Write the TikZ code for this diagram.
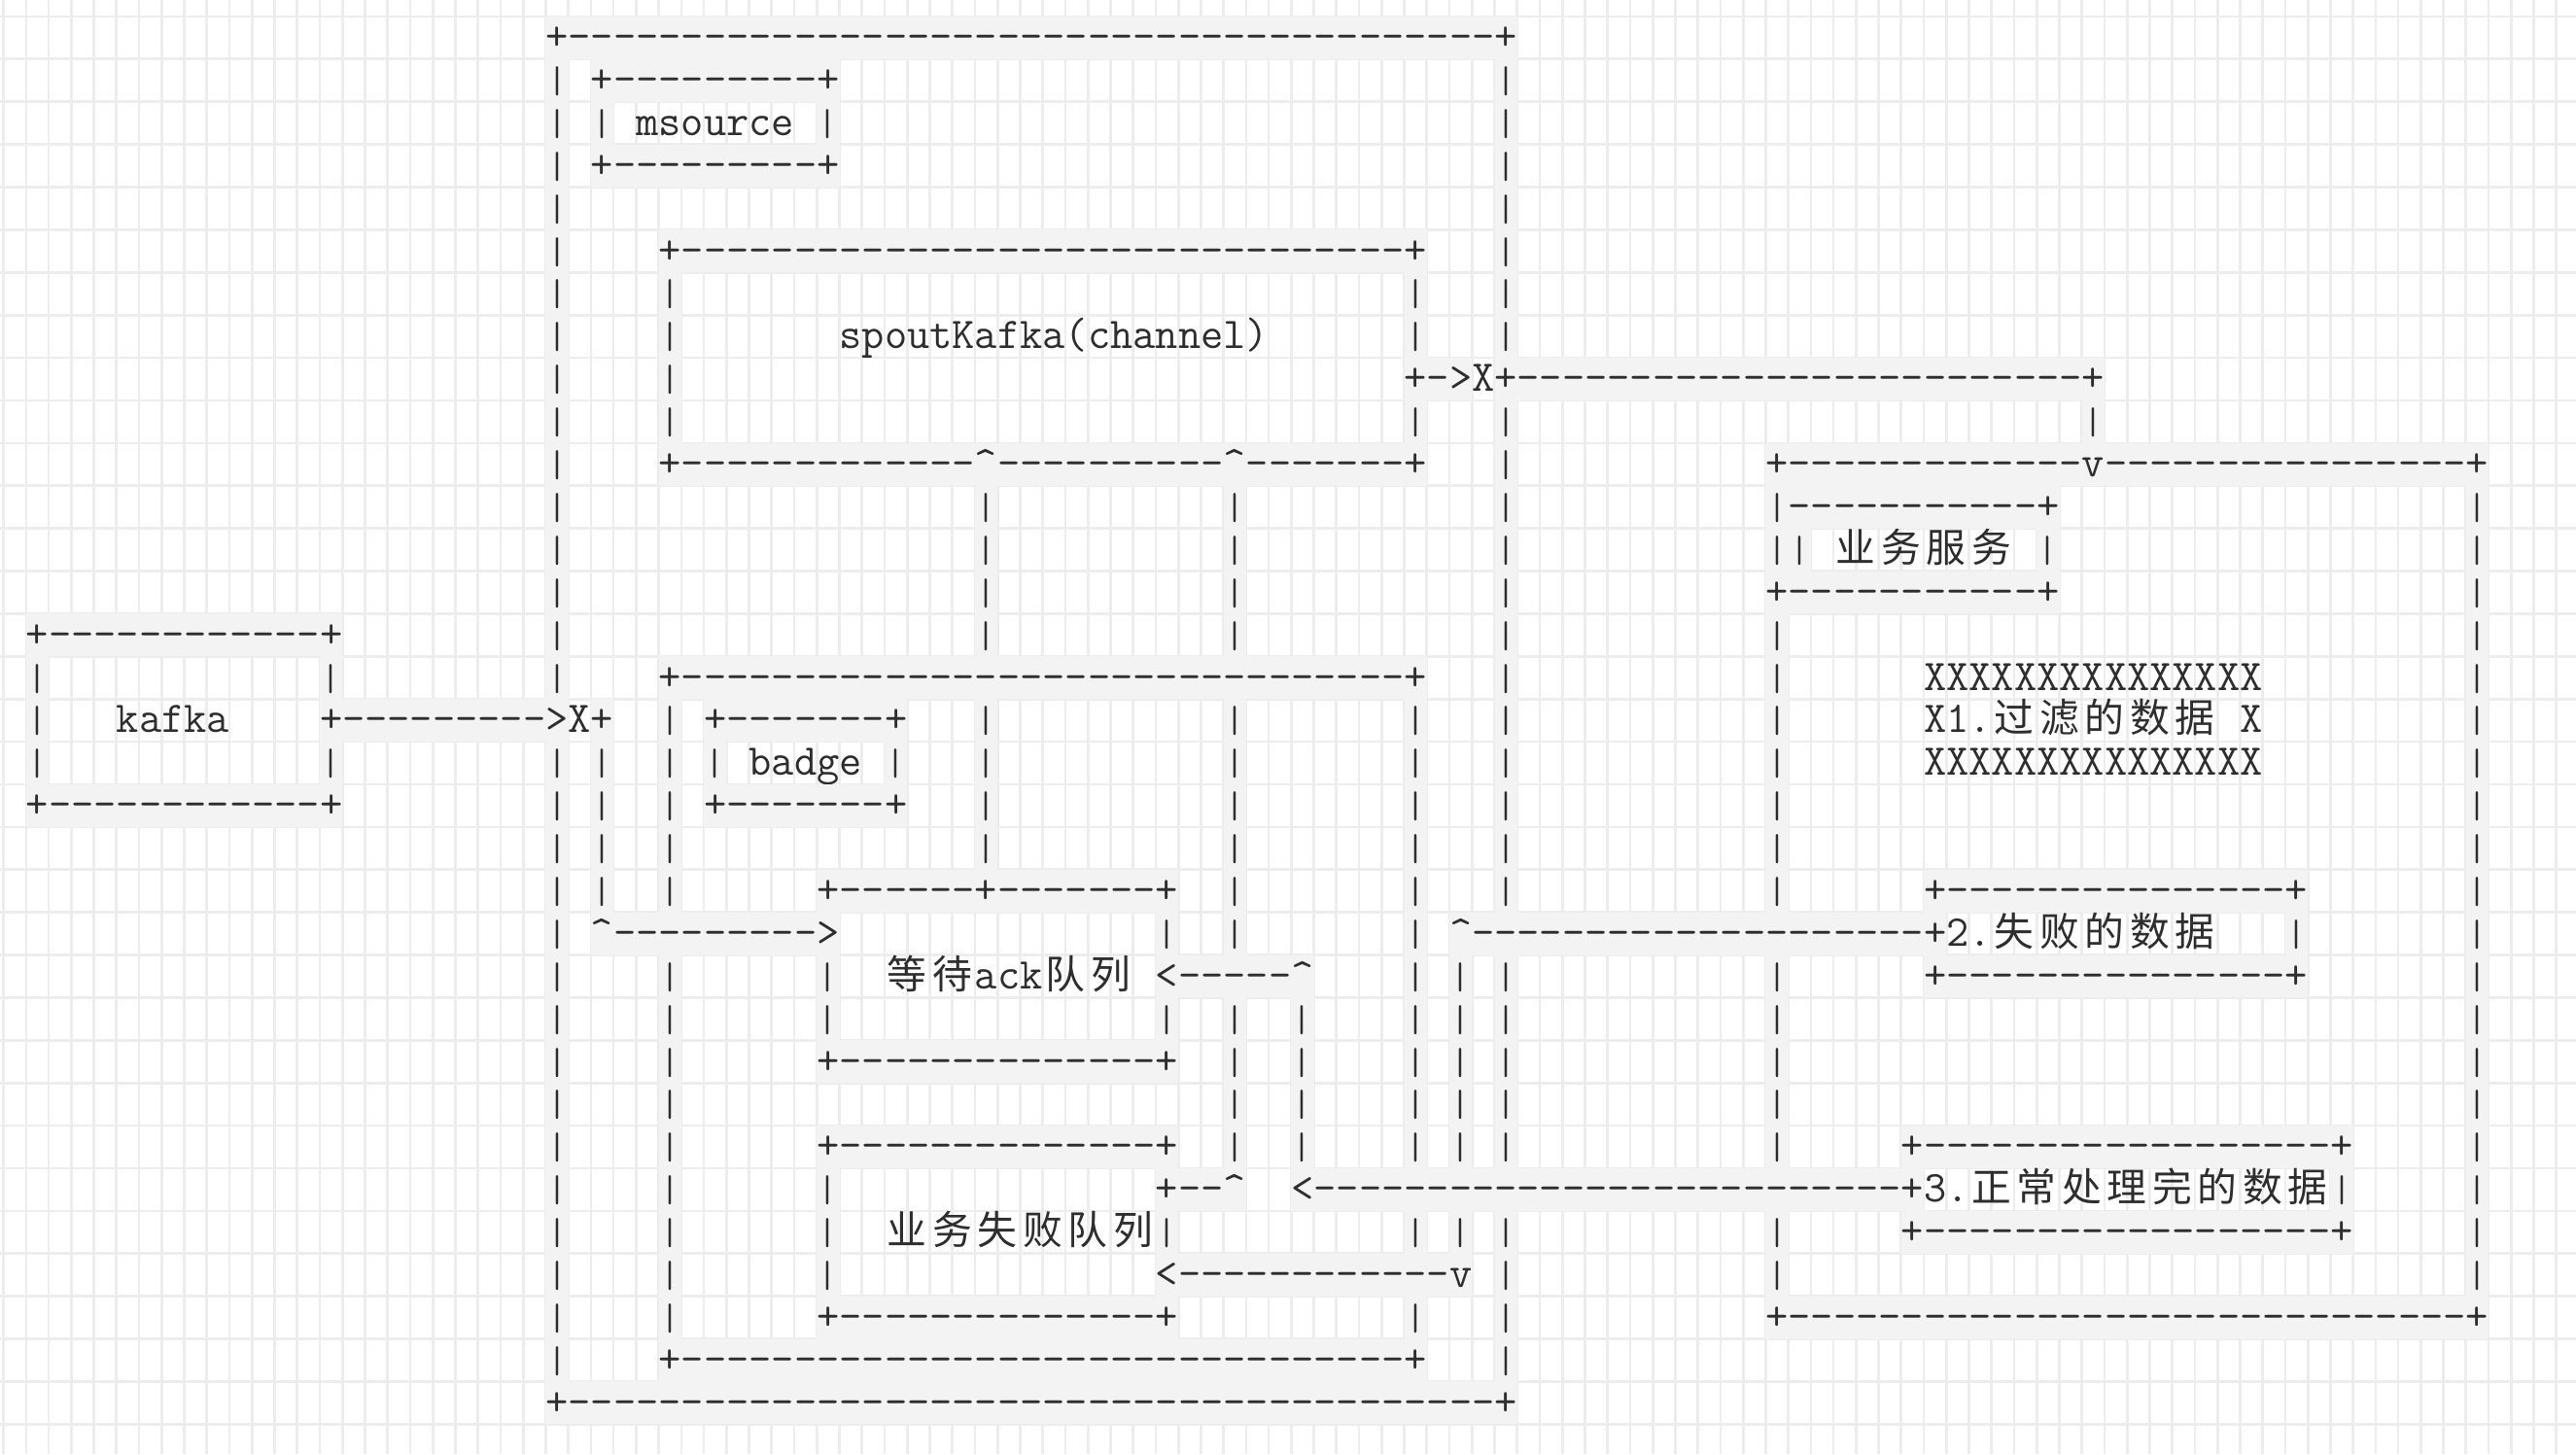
\documentclass[tikz,border=0pt]{standalone}
\usepackage{fontspec}
\newfontfamily\zhfont{Noto Sans CJK SC}

\definecolor{ink}{HTML}{2E2E2E}
\definecolor{shade}{HTML}{F3F3F3}
\definecolor{gridc}{HTML}{EDEDED}

\newlength\colw
\newlength\rowh
\newcommand\artfont{\ttfamily\fontsize{13.28pt}{13.28pt}\selectfont}
\AtBeginDocument{\settowidth\colw{\artfont M}\setlength\rowh{1.8886\colw}}

% one dash per box, so no -- ligature
\newcommand\dashrun[1]{\foreach \i in {1,...,#1}{\hbox{-}}}
\newcommand\caret{\textasciicircum}
% a shorter bar, so rows keep a gap
\newcommand\pipe{\makebox[\colw]{\fontsize{11.4pt}{11.4pt}\selectfont|}}
% wide chars take two columns
\newcommand\zh[1]{\zhloop#1\relax}
\def\zhloop#1{\ifx\relax#1\else\makebox[2\colw]{\zhfont\fontsize{12pt}{12pt}\selectfont#1}\expandafter\zhloop\fi}
\newcommand\vbars[2]{\foreach \r in {#2} \node[art] (bar-#1-\r) at (#1-0.5,\r) {\pipe};}

\begin{document}
\begin{tikzpicture}[x=\colw,y=-\rowh,
    art/.style={anchor=west,inner sep=0pt,outer sep=0pt,fill=shade,text=ink,
                font=\artfont,text height=0.79\rowh,text depth=0.21\rowh},
    txt/.style={art,fill=none}]

  \fill[white] (-1.657,-0.886) rectangle (112.37,33.20);
  \useasboundingbox (-1.657,-0.886) rectangle (112.37,33.20);
  \foreach \c in {-1.5,...,112.5} \draw[gridc,line width=0.8pt] (\c,-0.886) -- (\c,33.20);
  \foreach \r in {-0.5,...,32.5} \draw[gridc,line width=0.8pt] (-1.657,\r) -- (112.37,\r);

  % outer frame
  \node[art] (outer-top) at (22.5,0) {+\dashrun{41}+};
  \node[art] (outer-bot) at (22.5,32) {+\dashrun{41}+};
  \vbars{23}{1,...,15}
  \vbars{23}{17,...,31}
  \vbars{65}{1,...,7}
  \vbars{65}{9,...,20}
  \vbars{65}{22,...,26}
  \vbars{65}{28,...,31}

  % msource
  \node[art] (ms-top) at (24.5,1) {+\dashrun{9}+};
  \node[txt] (msource) at (26.5,2) {msource};
  \node[art] (ms-bot) at (24.5,3) {+\dashrun{9}+};
  \vbars{25}{2,17,18,19,20}
  \vbars{35}{2,22,23,27,28,29}

  % spoutKafka
  \node[art] (sp-top) at (27.5,5) {+\dashrun{32}+};
  \node[txt] (spout) at (35.5,7) {spoutKafka(channel)};
  \node[art] (sp-out) at (60.5,8) {+\dashrun{1}>};
  \node[txt] (x-out) at (63.5,8) {X};
  \node[art] (to-svc) at (64.5,8) {+\dashrun{25}+};
  \node[art] (sp-bot) at (27.5,10) {+\dashrun{13}\caret\dashrun{10}\caret\dashrun{7}+};
  \vbars{28}{6,...,9}
  \vbars{61}{6,7,9}
  \vbars{91}{9}

  % kafka
  \node[art] (kf-top) at (-0.5,14) {+\dashrun{12}+};
  \node[txt] (kafka) at (3.5,16) {kafka};
  \node[art] (kf-bot) at (-0.5,18) {+\dashrun{12}+};
  \node[art] (kf-out) at (12.5,16) {+\dashrun{9}>};
  \node[txt] (x-in) at (23.5,16) {X};
  \node[art] (x-in-r) at (24.5,16) {+};
  \vbars{0}{15,16,17}
  \vbars{13}{15,17}

  % inner box with badge
  \node[art] (in-top) at (27.5,15) {+\dashrun{32}+};
  \node[art] (in-bot) at (27.5,31) {+\dashrun{32}+};
  \node[art] (bd-top) at (29.5,16) {+\dashrun{7}+};
  \node[txt] (badge) at (31.5,17) {badge};
  \node[art] (bd-bot) at (29.5,18) {+\dashrun{7}+};
  \vbars{30}{17}
  \vbars{38}{17}
  \vbars{28}{16,...,20}
  \vbars{28}{22,...,30}
  \vbars{42}{11,...,14}
  \vbars{42}{16,...,19}
  \vbars{53}{11,...,14}
  \vbars{53}{16,...,21}
  \vbars{53}{23,...,26}
  \vbars{61}{16,...,26}
  \vbars{61}{28,30}

  % queues
  \node[art] (ack-top) at (34.5,20) {+\dashrun{6}+\dashrun{7}+};
  \node[art] (to-ack) at (24.5,21) {\caret\dashrun{9}>};
  \node[txt] (ack) at (37.5,22) {\zh{等待}ack\zh{队列}};
  \node[art] (ack-in) at (49.5,22) {<\dashrun{5}\caret};
  \node[art] (ack-bot) at (34.5,24) {+\dashrun{14}+};
  \node[art] (fq-top) at (34.5,26) {+\dashrun{14}+};
  \node[art] (fq-out) at (49.5,27) {+\dashrun{2}\caret};
  \node[txt] (fq) at (37.5,28) {\zh{业务失败队列}};
  \node[art] (fq-in) at (49.5,29) {<\dashrun{12}v};
  \node[art] (fq-bot) at (34.5,30) {+\dashrun{14}+};
  \vbars{50}{21,23,28}
  \vbars{56}{23,...,26}
  \vbars{63}{22,...,26}
  \vbars{63}{28}

  % business service
  \node[art] (svc-top) at (76.5,10) {+\dashrun{13}v\dashrun{16}+};
  \node[art] (svc-bot) at (76.5,30) {+\dashrun{30}+};
  \node[art] (ss-top) at (76.5,11) {\pipe\dashrun{11}+};
  \node[txt] (svc) at (79.5,12) {\zh{业务服务}};
  \node[art] (ss-bot) at (76.5,13) {+\dashrun{11}+};
  \vbars{77}{12}
  \vbars{78}{12}
  \vbars{89}{12}
  \vbars{77}{14,...,20}
  \vbars{77}{22,...,26}
  \vbars{77}{28,29}
  \vbars{108}{11,...,29}

  \node[txt] (xx-top) at (83.5,15) {XXXXXXXXXXXXXXX};
  \node[txt] (filt-a) at (83.5,16) {X1.};
  \node[txt] (filt) at (86.5,16) {\zh{过滤的数据}};
  \node[txt] (filt-b) at (97.5,16) {X};
  \node[txt] (xx-bot) at (83.5,17) {XXXXXXXXXXXXXXX};

  \node[art] (f2-top) at (83.5,20) {+\dashrun{15}+};
  \node[art] (from-f2) at (62.5,21) {\caret\dashrun{20}+};
  \node[txt] (f2-no) at (84.5,21) {2.};
  \node[txt] (failed) at (86.5,21) {\zh{失败的数据}};
  \node[art] (f2-bot) at (83.5,22) {+\dashrun{15}+};
  \vbars{100}{21}

  \node[art] (f3-top) at (82.5,26) {+\dashrun{18}+};
  \node[art] (from-f3) at (55.5,27) {<\dashrun{26}+};
  \node[txt] (f3-no) at (83.5,27) {3.};
  \node[txt] (done) at (85.5,27) {\zh{正常处理完的数据}};
  \node[art] (f3-bot) at (82.5,28) {+\dashrun{18}+};
  \vbars{102}{27}
\end{tikzpicture}
\end{document}
